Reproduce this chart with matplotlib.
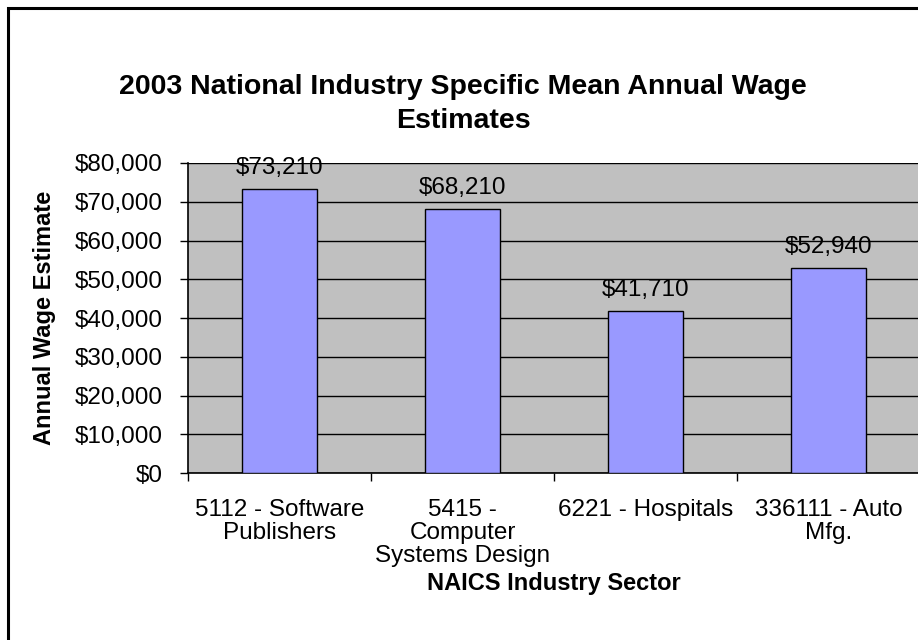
import matplotlib.pyplot as plt
from matplotlib.patches import Rectangle
from matplotlib.ticker import FuncFormatter, FixedLocator

plt.rcParams["font.family"] = ["Liberation Sans", "DejaVu Sans"]

categories = [
    "5112 - Software\nPublishers",
    "5415 -\nComputer\nSystems Design",
    "6221 - Hospitals",
    "336111 - Auto\nMfg.",
]
wages = [73210, 68210, 41710, 52940]
y_ticks = [0, 10000, 20000, 30000, 40000, 50000, 60000, 70000, 80000]

W, H = 918, 640
fig = plt.figure(figsize=(W / 100, H / 100), dpi=100)
ax = fig.add_axes([188 / W, 1 - 473 / H, (920 - 188) / W, (473 - 163) / H])

# outer chart border (only top and left edges show in the crop)
fig.patches.append(Rectangle((8 / W, -0.1), 2.0, (H - 8) / H + 0.1,
                             transform=fig.transFigure, fill=False,
                             edgecolor="black", linewidth=2.2))

x = list(range(len(categories)))
ax.set_facecolor("#C0C0C0")
ax.bar(x, wages, width=0.41, color="#9999FF", edgecolor="black", linewidth=1.0, zorder=3)

for xi, v in zip(x, wages):
    ax.text(xi, v + 5400, f"${v:,}", ha="center", va="center", fontsize=17.5, zorder=4)

ax.set_ylim(0, 80000)
ax.set_xlim(-0.5, 3.5)
ax.yaxis.set_major_locator(FixedLocator(y_ticks))
ax.yaxis.set_major_formatter(FuncFormatter(lambda v, p: f"${int(v):,}"))
ax.grid(axis="y", color="black", linewidth=1.0, zorder=1)
ax.set_axisbelow(True)

ax.set_xticks([-0.5, 0.5, 1.5, 2.5])
ax.set_xticklabels([])
ax.set_xticks(x, minor=True)
ax.set_xticklabels(categories, minor=True, fontsize=17.5, linespacing=1.05, va="top")
ax.tick_params(axis="x", which="major", direction="out", length=6, width=1)
ax.tick_params(axis="x", which="minor", length=0, pad=19)
ax.tick_params(axis="y", direction="out", length=6, width=1, pad=12, labelsize=17.5)

for side in ["top", "right"]:
    ax.spines[side].set_visible(False)
for side in ["left", "bottom"]:
    ax.spines[side].set_color("black")
    ax.spines[side].set_linewidth(1.2)

ax.set_ylabel("Annual Wage Estimate", fontsize=17, fontweight="bold", labelpad=0)
ax.yaxis.set_label_coords(-(188 - 56) / (920 - 188), 0.5)
ax.set_xlabel("NAICS Industry Sector", fontsize=17, fontweight="bold")
ax.xaxis.set_label_coords(0.5, -(572 - 473) / (473 - 163))

fig.text(463 / W, 1 - 104 / H, "2003 National Industry Specific Mean Annual Wage\nEstimates",
         ha="center", va="center", fontsize=20.5, fontweight="bold", linespacing=1.38)

fig.savefig("out.png", dpi=100)
